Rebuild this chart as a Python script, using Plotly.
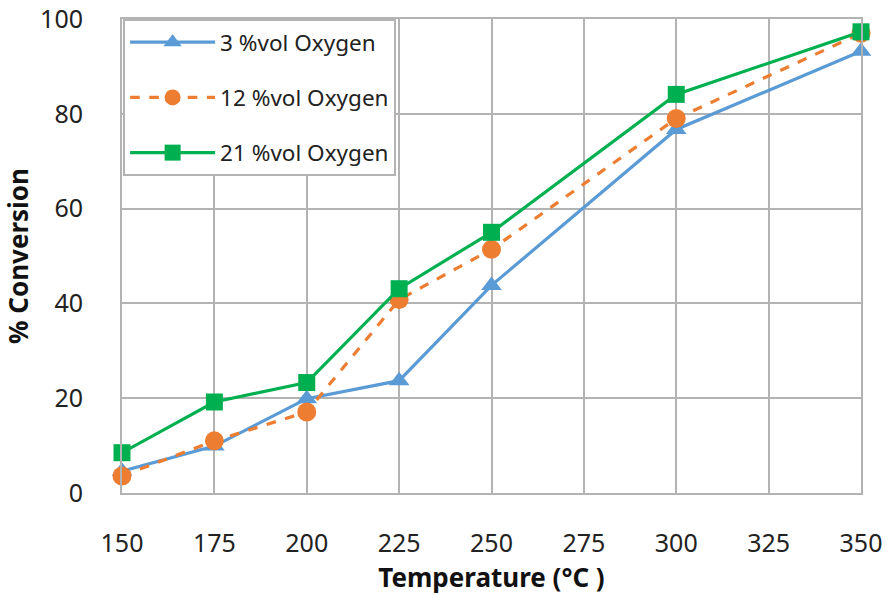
import plotly.graph_objects as go

temps = [150, 175, 200, 225, 250, 300, 350]
o2_3 = [4.6, 9.9, 19.9, 23.7, 43.8, 76.7, 93.2]
o2_12 = [3.6, 11.0, 17.1, 40.8, 51.4, 79.0, 97.0]
o2_21 = [8.5, 19.2, 23.3, 43.1, 55.0, 84.1, 97.3]
names = ["3 %vol Oxygen", "12 %vol Oxygen", "21 %vol Oxygen"]
x_ticks = [150, 175, 200, 225, 250, 275, 300, 325, 350]
y_ticks = [0, 20, 40, 60, 80, 100]

FONT = "Noto Sans"
fig = go.Figure()
styles = [
    dict(color="#5B9BD5", dash="solid", symbol="triangle-up", size=18),
    dict(color="#ED7D31", dash="dash", symbol="circle", size=19),
    dict(color="#00B050", dash="solid", symbol="square", size=17),
]
for i, (ys, nm, st) in enumerate(zip([o2_3, o2_12, o2_21], names, styles)):
    fig.add_trace(go.Scatter(
        x=temps, y=ys, name=nm, mode="lines+markers", legendgroup=f"g{i}",
        line=dict(color=st["color"], width=3.2, dash=st["dash"]),
        marker=dict(symbol=st["symbol"], size=st["size"], color=st["color"], line=dict(width=0)),
        cliponaxis=False,
    ))

fig.update_layout(
    width=888, height=595,
    margin=dict(l=122, r=27, t=19, b=102, autoexpand=False),
    paper_bgcolor="white", plot_bgcolor="white",
    font=dict(family=FONT, color="#222222"),
    showlegend=True,
    legend=dict(
        x=0.0015, y=1.0, xanchor="left", yanchor="top",
        bgcolor="white", bordercolor="#b3b3b3", borderwidth=2,
        font=dict(size=22.5, family=FONT, color="#222222"),
        tracegroupgap=23, itemwidth=85,
    ),
    xaxis=dict(
        range=[150, 350], tickvals=x_ticks, ticktext=[str(v) for v in x_ticks],
        showgrid=True, gridcolor="#b3b3b3", gridwidth=2,
        showline=True, linecolor="#b3b3b3", linewidth=2, mirror=True,
        zeroline=False, ticks="", ticklabelstandoff=27,
        tickfont=dict(size=25, family=FONT, color="#222222"),
        title=dict(text="<b>Temperature (°C )</b>", font=dict(size=26, family=FONT, color="#111111"), standoff=5),
    ),
    yaxis=dict(
        range=[0, 100], tickvals=y_ticks,
        showgrid=True, gridcolor="#b3b3b3", gridwidth=2,
        showline=True, linecolor="#b3b3b3", linewidth=2, mirror=True,
        zeroline=False, ticks="", ticklabelstandoff=32,
        tickfont=dict(size=25, family=FONT, color="#222222"),
        title=dict(text="<b>% Conversion</b>", font=dict(size=26, family=FONT, color="#111111"), standoff=8),
    ),
)
fig.write_html("out.html")
